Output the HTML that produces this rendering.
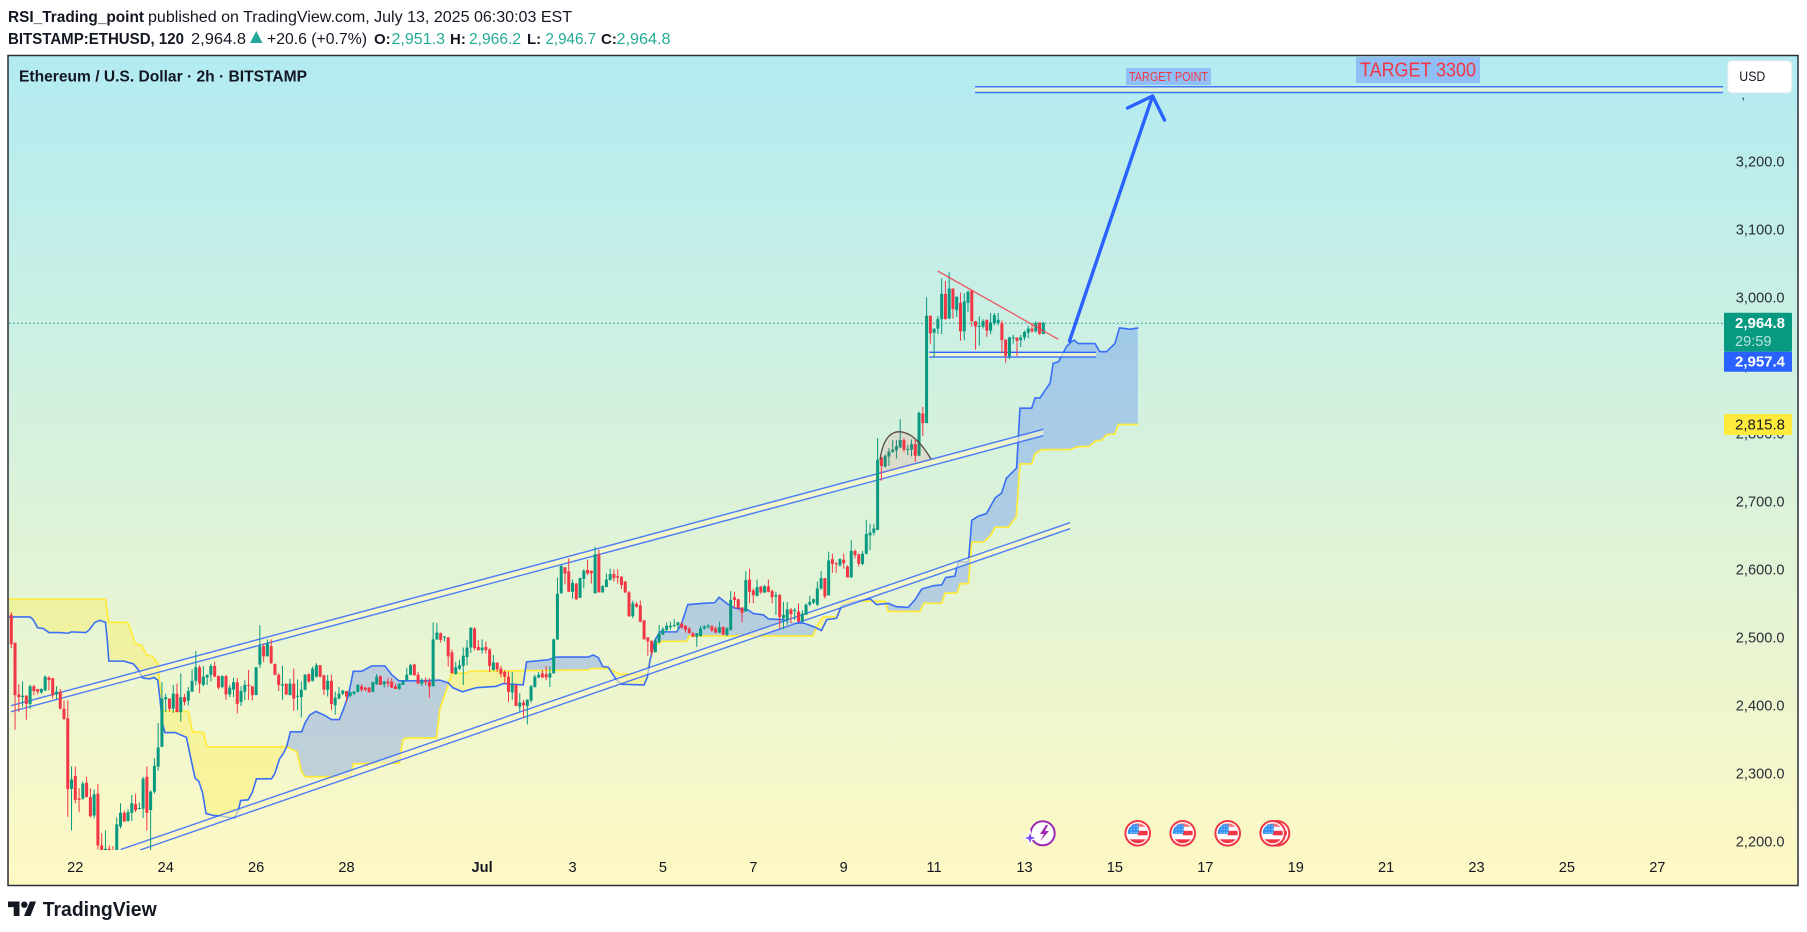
<!DOCTYPE html>
<html lang="en">
<head>
<meta charset="utf-8">
<title>Ethereum / U.S. Dollar 2h chart</title>
<style>
html,body{margin:0;padding:0;background:#fff;width:1807px;height:932px;overflow:hidden}
svg{display:block}
text{font-family:"Liberation Sans",sans-serif;fill:#131722}
</style>
</head>
<body>
<svg id="chart" xmlns="http://www.w3.org/2000/svg" width="1807" height="932" viewBox="0 0 1807 932">
<defs>
<linearGradient id="bgGrad" x1="0" y1="0" x2="0" y2="1">
<stop offset="0" stop-color="#b2ebf2"/><stop offset="1" stop-color="#fff9c4"/>
</linearGradient>
<clipPath id="plotClip"><rect x="9" y="56" width="1714" height="794"/></clipPath>
<clipPath id="flagClip"><circle cx="0" cy="0" r="10"/></clipPath>
<symbol id="usFlag" overflow="visible">
<circle cx="0" cy="0" r="12.3" fill="#fff" stroke="#f23645" stroke-width="2"/>
<g clip-path="url(#flagClip)">
<rect x="-10" y="-10" width="20" height="20" fill="#fff"/>
<rect x="-10" y="-10" width="20" height="3.6" fill="#f77c80"/>
<rect x="0" y="-2.5" width="11" height="4.5" fill="#f23645"/>
<rect x="-10" y="6" width="20" height="4" fill="#f23645"/>
<rect x="-10" y="-9" width="11" height="9.5" fill="#2f8ff0"/>
<path d="M-7-7h1M-4-7h1M-1-7h1M-7-4h1M-4-4h1M-1-4h1M-7-1h1M-4-1h1M-1-1h1" stroke="#dbeafe" stroke-width="1.2"/>
</g>
</symbol>
</defs>

<rect x="0" y="0" width="1807" height="932" fill="#ffffff"/>

<text x="8" y="22" font-size="15.5" font-weight="700" textLength="136" lengthAdjust="spacingAndGlyphs">RSI_Trading_point</text>
<text x="148" y="22" font-size="15.5" textLength="424" lengthAdjust="spacingAndGlyphs" fill="#2a2e39">published on TradingView.com, July 13, 2025 06:30:03 EST</text>
<text x="8" y="44" font-size="15.5" font-weight="700" textLength="176" lengthAdjust="spacingAndGlyphs">BITSTAMP:ETHUSD, 120</text>
<text x="191" y="44" font-size="15.5" textLength="55" lengthAdjust="spacingAndGlyphs">2,964.8</text>
<polygon points="250,43 262.5,43 256.3,31" fill="#26a69a"/>
<text x="267" y="44" font-size="15.5" textLength="100" lengthAdjust="spacingAndGlyphs">+20.6 (+0.7%)</text>
<text x="374" y="44" font-size="15" font-weight="700">O:</text>
<text x="391.5" y="44" font-size="15.5" fill="#22ab94" style="fill:#22ab94" textLength="53.5" lengthAdjust="spacingAndGlyphs">2,951.3</text>
<text x="450" y="44" font-size="15" font-weight="700">H:</text>
<text x="469" y="44" font-size="15.5" style="fill:#22ab94" textLength="52" lengthAdjust="spacingAndGlyphs">2,966.2</text>
<text x="527" y="44" font-size="15" font-weight="700">L:</text>
<text x="545.5" y="44" font-size="15.5" style="fill:#22ab94" textLength="50.5" lengthAdjust="spacingAndGlyphs">2,946.7</text>
<text x="601" y="44" font-size="15" font-weight="700">C:</text>
<text x="616.5" y="44" font-size="15.5" style="fill:#22ab94" textLength="54" lengthAdjust="spacingAndGlyphs">2,964.8</text>

<rect x="8" y="55.5" width="1790" height="830" fill="url(#bgGrad)"/>

<g id="cloudLayer" clip-path="url(#plotClip)"></g>

<g clip-path="url(#plotClip)">
<polygon points="11,705.7 1043.3,429.3 1043.3,435.7 11,711.7" fill="#fff9c4" fill-opacity=".62"/>
<line x1="11" y1="705.7" x2="1043.3" y2="429.3" stroke="#2962ff" stroke-opacity=".82" stroke-width="1.4"/>
<line x1="11" y1="711.7" x2="1043.3" y2="435.7" stroke="#2962ff" stroke-opacity=".82" stroke-width="1.4"/>
<polygon points="120.7,849.5 1070,522.7 1070,528.7 140,850" fill="#fff9c4" fill-opacity=".62"/>
<line x1="120.7" y1="849.5" x2="1070" y2="522.7" stroke="#2962ff" stroke-opacity=".82" stroke-width="1.4"/>
<line x1="140" y1="850" x2="1070" y2="528.7" stroke="#2962ff" stroke-opacity=".82" stroke-width="1.4"/>
<polygon points="929.3,352.3 1096,352.3 1096,357 929.3,357" fill="#fff9c4" fill-opacity=".75"/>
<line x1="929.3" y1="352.3" x2="1096" y2="352.3" stroke="#2962ff" stroke-width="1.4"/>
<line x1="929.3" y1="357" x2="1096" y2="357" stroke="#2962ff" stroke-opacity=".85" stroke-width="1.4"/>
<polygon points="975,86.7 1723,86.7 1723,92.5 975,92.5" fill="#fff9c4" fill-opacity=".55"/>
<line x1="975" y1="86.7" x2="1723" y2="86.7" stroke="#2962ff" stroke-opacity=".85" stroke-width="1.5"/>
<line x1="975" y1="92.5" x2="1723" y2="92.5" stroke="#2962ff" stroke-opacity=".85" stroke-width="1.5"/>
</g>

<line x1="9" y1="323.3" x2="1723" y2="323.3" stroke="#089981" stroke-width="1" stroke-dasharray="1.5 2.5"/>

<g id="candleLayer" clip-path="url(#plotClip)"></g>

<g clip-path="url(#plotClip)">
<path d="M880 474 Q884 432 899 431.7 Q915 432 931 459 Z" fill="#f23645" fill-opacity=".11"/>
<path d="M880 460 Q884 432 899 431.7 Q915 432 931 459" fill="none" stroke="#5d4e48" stroke-width="1.4"/>
<line x1="937.7" y1="271" x2="1058.3" y2="339.3" stroke="#f23645" stroke-opacity=".8" stroke-width="1.3"/>
<path d="M1069.5 341 L1152.6 96 M1127.5 108 L1152.6 96 L1164.5 120" fill="none" stroke="#2962ff" stroke-width="3.4" stroke-linecap="round" stroke-linejoin="round"/>
</g>

<rect x="1126" y="68" width="85" height="17" fill="#90bff5"/>
<text x="1168.5" y="81" font-size="13" text-anchor="middle" style="fill:#f23645" textLength="79" lengthAdjust="spacingAndGlyphs">TARGET POINT</text>
<rect x="1356" y="57" width="124" height="26" fill="#90bff5"/>
<text x="1418" y="76.5" font-size="20" text-anchor="middle" style="fill:#f23645" textLength="116" lengthAdjust="spacingAndGlyphs">TARGET 3300</text>

<text x="19" y="81.5" font-size="15.5" font-weight="700" textLength="288" lengthAdjust="spacingAndGlyphs">Ethereum / U.S. Dollar · 2h · BITSTAMP</text>

<g id="priceAxis"></g>
<g id="timeAxis"></g>

<text x="1741.5" y="99" font-size="12" fill="#444">,</text>
<rect x="1727.7" y="60.7" width="64" height="32" rx="4" fill="#ffffff" stroke="#e6e9ee" stroke-width="1"/>
<text x="1739.3" y="81" font-size="14" textLength="26" lengthAdjust="spacingAndGlyphs">USD</text>

<rect x="1724" y="312.7" width="68" height="39" rx="1" fill="#089981"/>
<text x="1735" y="328" font-size="14.6" font-weight="700" style="fill:#fff" textLength="50" lengthAdjust="spacingAndGlyphs">2,964.8</text>
<text x="1735" y="345.8" font-size="14.6" style="fill:#b9e4dc">29:59</text>
<rect x="1724" y="351.7" width="68" height="20" rx="1" fill="#2962ff"/>
<text x="1735" y="366.5" font-size="14.6" font-weight="700" style="fill:#fff" textLength="50" lengthAdjust="spacingAndGlyphs">2,957.4</text>
<rect x="1724" y="414" width="68" height="21" rx="1" fill="#ffeb3b"/>
<text x="1735" y="429.5" font-size="14.6" textLength="50" lengthAdjust="spacingAndGlyphs">2,815.8</text>

<g>
<circle cx="1042.7" cy="833.3" r="12" fill="#fff" stroke="#9c27b0" stroke-width="2"/>
<path d="M1046 825 L1040 834 L1044 834 L1040 841 L1049 831 L1045 831 L1048 825 Z" fill="#9c27b0"/>
<polygon points="1030,831 1031.8,836.2 1037,838 1031.8,839.8 1030,845 1028.2,839.8 1023,838 1028.2,836.2" fill="#7c4dff" stroke="#fff" stroke-width="1.2"/>
</g>
<use href="#usFlag" x="1137.7" y="833.3"/>
<use href="#usFlag" x="1182.7" y="833.3"/>
<use href="#usFlag" x="1227.7" y="833.3"/>
<use href="#usFlag" x="1277" y="833.3"/>
<use href="#usFlag" x="1272.7" y="833.3"/>

<rect x="8" y="55.5" width="1790" height="830" fill="none" stroke="#2a2e39" stroke-width="1.5"/>

<g transform="translate(8,899.5)">
<path d="M11.5 16.5H5.7V7.6H0V2h11.5z" fill="#131722"/>
<circle cx="16.3" cy="5.2" r="3.2" fill="#131722"/>
<path d="M22.5 16.5H16L22 2h6z" fill="#131722"/>
</g>
<text x="42.7" y="916" font-size="20.5" font-weight="700" textLength="114" lengthAdjust="spacingAndGlyphs">TradingView</text>
</svg>

<script>
const opens=[2536,2495,2419,2415,2417,2405,2431,2427,2422,2425,
2444,2443,2419,2423,2398,2384,2280,2299,2266,2266,
2289,2268,2241,2273,2197,2190,2192,2190,2190,2225,
2245,2233,2245,2258,2251,2251,2298,2249,2276,2313,
2342,2412,2413,2398,2420,2393,2415,2410,2423,2439,
2459,2433,2444,2448,2461,2446,2430,2446,2419,2426,
2437,2408,2423,2433,2431,2418,2463,2490,2475,2490,
2464,2448,2432,2435,2418,2435,2416,2415,2426,2449,
2439,2445,2462,2447,2426,2439,2403,2413,2420,2424,
2417,2420,2423,2431,2429,2429,2423,2434,2446,2434,
2438,2438,2431,2427,2433,2440,2448,2463,2448,2435,
2439,2438,2431,2500,2509,2503,2503,2481,2449,2457,
2461,2474,2488,2516,2489,2484,2489,2485,2455,2466,
2457,2452,2445,2422,2433,2401,2407,2402,2410,2430,
2444,2450,2449,2444,2450,2500,2568,2606,2600,2570,
2582,2561,2589,2602,2601,2568,2625,2569,2577,2587,
2596,2593,2592,2585,2569,2534,2552,2550,2528,2503,
2498,2481,2496,2507,2514,2518,2520,2521,2523,2520,
2516,2509,2504,2505,2516,2518,2519,2516,2510,2518,
2506,2514,2562,2559,2547,2541,2588,2572,2564,2578,
2569,2578,2571,2563,2565,2531,2528,2544,2542,2541,
2526,2536,2551,2554,2551,2575,2590,2565,2618,2612,
2609,2617,2607,2591,2630,2625,2611,2626,2653,2657,
2661,2768,2754,2769,2776,2778,2782,2793,2779,2779,
2787,2770,2832,2818,2976,2951,2957,2971,3008,2972,
3016,2984,2995,2953,2995,3013,2968,2960,2960,2970,
2954,2965,2965,2965,2941,2916,2943,2944,2940,2944,
2951,2957,2953,2966,2949];
const highs=[2540,2495,2434,2438,2418,2433,2433,2427,2428,2447,
2446,2443,2431,2427,2410,2410,2313,2313,2281,2291,
2298,2281,2279,2287,2215,2219,2197,2196,2238,2259,
2248,2250,2271,2273,2260,2298,2313,2278,2325,2377,
2437,2420,2413,2433,2435,2450,2420,2430,2456,2483,
2462,2461,2448,2464,2467,2447,2447,2448,2433,2444,
2443,2431,2440,2455,2431,2459,2521,2494,2500,2500,
2464,2450,2461,2435,2442,2457,2441,2438,2449,2450,
2460,2465,2462,2448,2448,2448,2423,2430,2425,2424,
2423,2424,2434,2434,2430,2430,2438,2449,2447,2439,
2443,2443,2435,2435,2439,2458,2464,2464,2452,2443,
2444,2443,2525,2524,2510,2505,2503,2485,2467,2470,
2488,2499,2518,2518,2499,2500,2497,2487,2477,2466,
2461,2455,2453,2452,2433,2421,2411,2412,2433,2448,
2452,2455,2461,2460,2501,2591,2609,2606,2619,2588,
2583,2591,2603,2617,2601,2636,2632,2580,2597,2604,
2603,2603,2593,2586,2571,2557,2555,2557,2528,2503,
2498,2502,2521,2518,2525,2526,2530,2526,2525,2521,
2518,2511,2509,2520,2521,2523,2521,2519,2526,2519,
2518,2571,2570,2560,2547,2600,2604,2575,2588,2578,
2580,2588,2573,2570,2567,2555,2555,2546,2546,2553,
2543,2553,2564,2560,2585,2600,2590,2629,2626,2614,
2619,2626,2609,2646,2632,2626,2630,2676,2670,2670,
2796,2768,2772,2781,2793,2793,2824,2796,2786,2794,
2793,2835,2842,3003,2976,2957,2976,3031,3027,3040,
3016,3004,3010,3009,3013,3013,2968,2975,2971,2970,
2980,2980,2980,2969,2941,2945,2948,2944,2948,2954,
2961,2965,2968,2966,2967];
const lows=[2487,2367,2393,2401,2382,2398,2418,2419,2420,2424,
2425,2413,2412,2397,2381,2239,2219,2259,2246,2264,
2268,2238,2237,2191,2185,2185,2185,2185,2185,2222,
2232,2232,2233,2246,2250,2237,2219,2185,2273,2307,
2342,2393,2394,2392,2393,2379,2403,2403,2423,2433,
2421,2431,2433,2438,2445,2426,2428,2411,2415,2415,
2391,2402,2411,2411,2410,2418,2458,2467,2475,2464,
2447,2424,2411,2418,2418,2395,2396,2385,2425,2436,
2438,2444,2444,2418,2416,2396,2389,2412,2418,2408,
2415,2418,2422,2423,2424,2422,2422,2433,2433,2429,
2430,2428,2427,2426,2433,2439,2447,2447,2434,2431,
2433,2414,2431,2499,2495,2497,2460,2450,2448,2455,
2433,2462,2480,2484,2484,2479,2479,2452,2454,2452,
2444,2435,2408,2411,2402,2394,2385,2375,2407,2429,
2443,2443,2440,2430,2450,2499,2567,2581,2570,2560,
2558,2561,2575,2595,2582,2567,2569,2569,2577,2587,
2585,2582,2574,2568,2533,2531,2547,2525,2500,2476,
2476,2481,2494,2506,2511,2514,2518,2514,2516,2510,
2509,2503,2489,2504,2514,2516,2511,2509,2509,2506,
2505,2513,2546,2543,2525,2540,2553,2553,2563,2567,
2568,2569,2553,2536,2516,2515,2521,2524,2528,2525,
2525,2536,2549,2552,2549,2573,2560,2564,2598,2598,
2607,2604,2591,2591,2619,2607,2609,2625,2631,2653,
2661,2733,2753,2755,2774,2766,2782,2776,2771,2769,
2761,2770,2799,2818,2935,2915,2949,2949,2970,2971,
2972,2974,2939,2940,2982,2960,2926,2932,2957,2945,
2949,2962,2962,2921,2907,2912,2935,2917,2930,2940,
2943,2951,2951,2948,2949];
const closes=[2493,2418,2415,2417,2405,2431,2424,2423,2427,2445,
2440,2418,2423,2398,2383,2280,2294,2264,2264,2288,
2268,2240,2272,2197,2190,2192,2190,2188,2228,2245,
2232,2246,2259,2249,2252,2295,2245,2276,2314,2341,
2413,2415,2398,2420,2393,2415,2408,2424,2439,2459,
2435,2445,2448,2461,2445,2429,2446,2419,2429,2437,
2405,2424,2433,2432,2418,2459,2490,2475,2494,2465,
2448,2433,2434,2419,2435,2413,2417,2426,2448,2438,
2457,2462,2445,2426,2439,2405,2414,2420,2425,2416,
2422,2423,2433,2426,2426,2422,2437,2445,2433,2438,
2435,2429,2427,2435,2439,2448,2462,2447,2435,2439,
2437,2431,2500,2510,2499,2504,2475,2450,2459,2462,
2476,2488,2517,2487,2484,2488,2484,2461,2466,2456,
2449,2445,2423,2433,2402,2407,2403,2411,2431,2445,
2448,2444,2444,2450,2500,2567,2608,2597,2570,2583,
2559,2590,2601,2597,2597,2625,2569,2578,2588,2596,
2590,2591,2580,2569,2534,2553,2548,2526,2500,2497,
2481,2498,2508,2515,2520,2520,2521,2525,2517,2514,
2509,2504,2509,2516,2519,2520,2513,2510,2518,2507,
2516,2558,2558,2546,2539,2587,2570,2565,2577,2569,
2578,2570,2562,2565,2533,2536,2544,2537,2543,2526,
2538,2551,2555,2559,2575,2590,2563,2616,2611,2611,
2618,2612,2591,2630,2624,2611,2626,2655,2657,2663,
2764,2755,2770,2776,2779,2784,2793,2779,2780,2787,
2770,2833,2818,2976,2950,2957,2971,3008,2971,3016,
2986,3004,2953,2997,3011,2968,2960,2961,2968,2954,
2966,2977,2970,2940,2917,2944,2944,2939,2944,2952,
2957,2953,2965,2949,2965];

const leadingABars=[-0.7,5,5.8,7,8.5,10,12.9,15,16,19.8,
20.7,22.2,23.5,25,25.5,25.9,29.9,32.4,33.5,34.9,
36.8,37.9,38.9,39.5,40.1,40.8,43.5,46.5,47.4,48.8,
49.8,50.8,51.7,53.6,55.8,58,59.4,60.3,60.9,62.9,
64,65.1,69.1,70,71.2,72.2,73.1,74.1,77.1,78,
79.3,80.9,83.3,85,87.1,88.1,89.5,90.8,93,95.7,
99.2,101,102.9,108,113.8,116,117.2,119.8,123.5,128.8,
130.6,135.9,136.8,142.6,144.8,153.2,154.5,155.9,157,158.5,
160.7,162,168,168.9,169.6,170.9,172.2,176.7,178,179.6,
183.7,186.8,187.9,190.4,192.1,195.7,197,199.7,201,205,
207.2,210.3,212.9,215.1,216.5,219.1,220.4,224.4,228,229.7,
232.8,235,238.1,239.9,241.7,244.8,247,248.1,250.5,251.4,
254.1,255,256.7,258.9,261.2,262.9,264.2,266.9,267.8,270.9,
271.8,273.1,275.8,276.6,278,280.2,281.5,282.2,283.3,287.7,
289,290.8,293,294.2,295.7,297,299.2];
const leadingAValues=[2533,2533,2529,2517,2516,2510,2510,2509,2511,2510,
2514,2525,2528,2525,2499,2468,2468,2464,2457,2443,
2442,2444,2440,2411,2377,2363,2363,2356,2332,2296,
2291,2274,2244,2241,2240,2238,2238,2249,2263,2264,
2275,2295,2295,2303,2324,2332,2342,2364,2364,2377,
2389,2394,2388,2382,2382,2396,2418,2453,2453,2461,
2461,2448,2439,2439,2440,2436,2429,2423,2429,2431,
2435,2433,2467,2470,2474,2474,2477,2473,2460,2459,
2440,2434,2433,2445,2470,2499,2511,2511,2524,2551,
2553,2554,2562,2551,2546,2543,2538,2536,2530,2529,
2524,2524,2519,2513,2529,2531,2549,2556,2560,2551,
2553,2548,2547,2558,2574,2579,2580,2591,2593,2614,
2614,2675,2681,2685,2708,2715,2737,2752,2840,2840,
2855,2855,2877,2906,2908,2931,2938,2940,2935,2935,
2923,2923,2935,2958,2957,2956,2958];
const leadingBBars=[-0.7,25,25.9,30.9,31.9,32.8,34.6,35.9,37.3,38.8,
39.5,40.4,47,48.1,51,51.9,73.1,74.9,75.8,77.1,
78,90.1,90.8,103,103.9,104.8,112.9,113.8,115.8,116.9,
120.4,121.8,136.9,153.2,154,158.5,161.6,168.8,169.6,170.5,
172.7,179.3,180,212.9,213.8,215.6,219.1,220.9,232,232.8,
241.2,242.3,247,247.9,251.1,251.9,254.1,255,258.1,260,
261.2,264.7,266.8,267.8,270.9,271.8,273.6,281.2,282.8,286.2,
287.9,289.5,290.8,293,293.9,299.2];
const leadingBValues=[2559,2559,2525,2525,2511,2494,2491,2477,2475,2466,
2430,2394,2394,2364,2363,2342,2342,2337,2335,2305,
2298,2298,2317,2318,2352,2355,2355,2398,2430,2450,
2450,2453,2454,2455,2457,2457,2449,2449,2470,2489,
2497,2497,2505,2505,2519,2533,2533,2556,2556,2541,
2541,2553,2553,2568,2568,2582,2582,2643,2643,2653,
2665,2665,2680,2758,2758,2773,2779,2779,2783,2784,
2792,2793,2801,2802,2816,2816];

const priceTicks=[3200,3100,3000,2900,2800,2700,2600,2500,2400,2300,2200];
const timeTickLabels=['22','24','26','28','Jul','3','5','7','9','11','13','15','17','19','21','23','25','27'];
const timeTickBars=[17,41,65,89,125,149,173,197,221,245,269,293,317,341,365,389,413,437];

const SVGNS='http://www.w3.org/2000/svg';
function xOfBar(b){return 75.3+(b-17)*3.7667;}
function yOfPrice(p){return 323.3-(p-2964.8)*0.68;}
function make(tag,attrs){
  const el=document.createElementNS(SVGNS,tag);
  for(const k in attrs){el.setAttribute(k,attrs[k]);}
  return el;
}
function interp(bars,vals,b){
  if(b<=bars[0])return vals[0];
  for(let i=1;i<bars.length;i++){
    if(b<=bars[i]){
      const t=(b-bars[i-1])/(bars[i]-bars[i-1]);
      return vals[i-1]+(vals[i]-vals[i-1])*t;
    }
  }
  return vals[vals.length-1];
}

const cloudLayer=document.getElementById('cloudLayer');
(function drawCloud(){
  const grid=[];
  const start=Math.max(leadingABars[0],leadingBBars[0]);
  const end=Math.min(leadingABars[leadingABars.length-1],leadingBBars[leadingBBars.length-1]);
  for(let b=start;b<=end;b+=0.2){grid.push(b);}
  let run=[],sign=null;
  function flush(){
    if(run.length<2)return;
    const top=run.map(r=>xOfBar(r)+','+yOfPrice(interp(leadingABars,leadingAValues,r)));
    const bot=run.slice().reverse().map(r=>xOfBar(r)+','+yOfPrice(interp(leadingBBars,leadingBValues,r)));
    const poly=make('polygon',{points:top.concat(bot).join(' '),fill:sign?'#2962ff':'#ffeb3b','fill-opacity':sign?'.26':'.32'});
    
    
    cloudLayer.appendChild(poly);
  }
  grid.forEach(function(b){
    const s=interp(leadingABars,leadingAValues,b)>=interp(leadingBBars,leadingBValues,b);
    if(sign===null){sign=s;}
    if(s!==sign){
      run.push(b);
      flush();
      run=[b];
      sign=s;
    }else{
      run.push(b);
    }
  });
  flush();
  const lineB=make('polyline',{points:leadingBBars.map((b,i)=>xOfBar(b)+','+yOfPrice(leadingBValues[i])).join(' '),fill:'none',stroke:'#ffeb3b','stroke-width':'1.7'});
  
  
  cloudLayer.appendChild(lineB);
  const lineA=make('polyline',{points:leadingABars.map((b,i)=>xOfBar(b)+','+yOfPrice(leadingAValues[i])).join(' '),fill:'none',stroke:'#3a6ef5','stroke-width':'1.6'});
  
  
  cloudLayer.appendChild(lineA);
})();

const candleLayer=document.getElementById('candleLayer');
opens.forEach(function(o,i){
  const c=closes[i],h=highs[i],l=lows[i];
  const up=c>=o;
  const color=up?'#089981':'#f23645';
  const x=xOfBar(i);
  const g=make('g',{});
  
  
  const wick=make('rect',{x:x-0.5,y:yOfPrice(h),width:1,height:Math.max(0.5,yOfPrice(l)-yOfPrice(h)),fill:color});
  
  
  const top=yOfPrice(Math.max(o,c));
  const bh=Math.max(1,Math.abs(yOfPrice(o)-yOfPrice(c)));
  const body=make('rect',{x:x-1.5,y:top,width:3,height:bh,fill:color});
  
  
  g.appendChild(wick);
  g.appendChild(body);
  candleLayer.appendChild(g);
});

const priceAxis=document.getElementById('priceAxis');
priceTicks.forEach(function(p){
  const t=make('text',{x:1784.5,y:yOfPrice(p)+3.3,'font-size':'14.6','text-anchor':'end'});
  t.style.fill='#2a2e39';
  t.textContent=p.toLocaleString('en-US',{minimumFractionDigits:1,maximumFractionDigits:1});
  
  
  priceAxis.appendChild(t);
});

const timeAxis=document.getElementById('timeAxis');
timeTickLabels.forEach(function(lbl,i){
  const t=make('text',{x:xOfBar(timeTickBars[i]),y:872,'font-size':'14.6','text-anchor':'middle'});
  if(lbl==='Jul'){t.setAttribute('font-weight','700');}
  t.textContent=lbl;
  
  
  timeAxis.appendChild(t);
});
</script>
</body>
</html>
